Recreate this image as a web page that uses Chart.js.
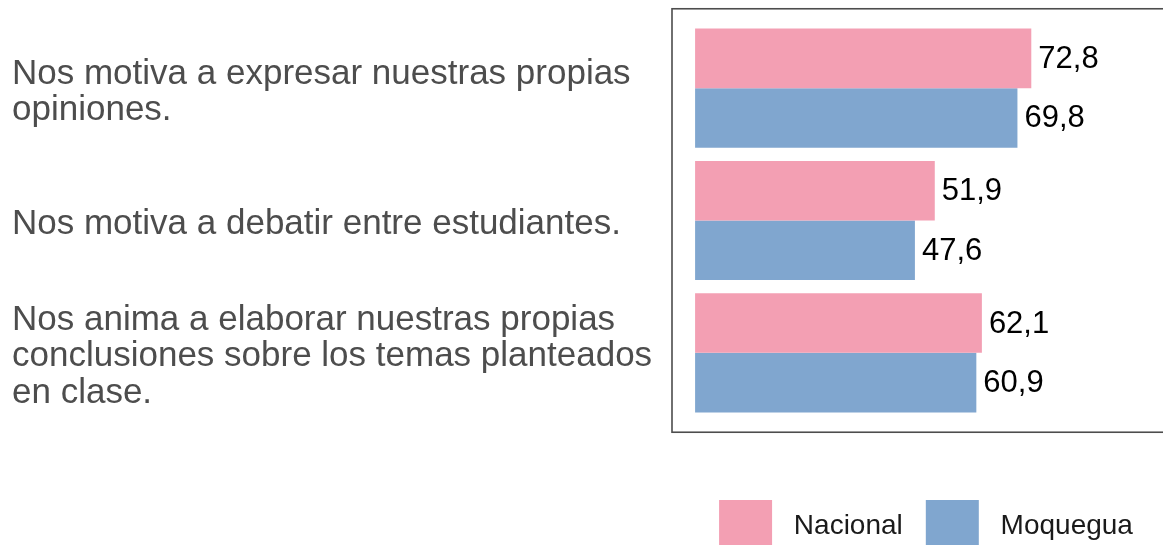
<!DOCTYPE html>
<html>
<head>
<meta charset="utf-8">
<script src="https://cdn.jsdelivr.net/npm/chart.js@4/dist/chart.umd.min.js"></script>
<style>
    html, body { margin: 0; padding: 0; background: #ffffff; overflow: hidden; }
    #wrap { width: 1190px; height: 565px; }
</style>
</head>
<body>
<div id="wrap"><canvas id="opinionChart"></canvas></div>
<script>
// Categories (one array per wrapped label) and series values
const categories = [
    ['Nos motiva a expresar nuestras propias', 'opiniones.'],
    ['Nos motiva a debatir entre estudiantes.'],
    ['Nos anima a elaborar nuestras propias', 'conclusiones sobre los temas planteados', 'en clase.']
];
const seriesNames = ['Nacional', 'Moquegua'];
const nacional = [72.8, 51.9, 62.1];
const moquegua = [69.8, 47.6, 60.9];
const xLimits = [-5, 105];

const pink = 'rgb(243, 159, 179)';
const blue = 'rgb(128, 166, 207)';
const fontFamily = '"Liberation Sans", Arial, Helvetica, sans-serif';

// Writes each value at the end of its bar, with a decimal comma
const valueLabels = {
    id: 'valueLabels',
    afterDatasetsDraw(chart) {
        const ctx = chart.ctx;
        ctx.save();
        ctx.font = '31px ' + fontFamily;
        ctx.fillStyle = '#000000';
        ctx.textAlign = 'left';
        ctx.textBaseline = 'middle';
        chart.data.datasets.forEach(function(ds, i) {
            chart.getDatasetMeta(i).data.forEach(function(bar, j) {
                ctx.fillText(ds.data[j].toFixed(1).replace('.', ','), bar.x + 7, bar.y + 1);
            });
        });
        ctx.restore();
    }
};

// Panel frame, extended a little beyond the outer categories
const panelFrame = {
    id: 'panelFrame',
    afterDraw(chart) {
        const area = chart.chartArea;
        const y = chart.scales.y;
        const ext = 0.1 * Math.abs(y.getPixelForValue(1) - y.getPixelForValue(0));
        const ctx = chart.ctx;
        ctx.save();
        ctx.strokeStyle = '#4d4d4d';
        ctx.lineWidth = 1.6;
        ctx.strokeRect(area.left, area.top - ext, area.right - area.left, area.bottom - area.top + 2 * ext);
        ctx.restore();
    }
};

new Chart(document.getElementById('opinionChart'), {
    type: 'bar',
    data: {
        labels: categories,
        datasets: [{
            label: seriesNames[0],
            data: nacional,
            backgroundColor: pink,
            borderWidth: 0
        }, {
            label: seriesNames[1],
            data: moquegua,
            backgroundColor: blue,
            borderWidth: 0
        }]
    },
    plugins: [valueLabels, panelFrame],
    options: {
        indexAxis: 'y',
        responsive: true,
        maintainAspectRatio: false,
        animation: false,
        layout: {
            padding: { top: 22, left: 12, right: 10, bottom: 2 }
        },
        datasets: {
            bar: { categoryPercentage: 0.9, barPercentage: 1.0 }
        },
        scales: {
            x: {
                min: xLimits[0],
                max: xLimits[1],
                ticks: { display: false },
                grid: { display: false, drawTicks: false },
                border: { display: false },
                afterFit: function(scale) { scale.height = 58; }
            },
            y: {
                grid: { display: false, drawTicks: false },
                border: { display: false },
                ticks: {
                    crossAlign: 'far',
                    labelOffset: 4,
                    color: '#4d4d4d',
                    font: { family: fontFamily, size: 35, lineHeight: 1.04 }
                },
                afterFit: function(scale) {
                    scale.width = 660;
                    scale.paddingTop = 0;
                    scale.paddingBottom = 0;
                }
            }
        },
        plugins: {
            legend: {
                position: 'bottom',
                fullSize: false,
                labels: {
                    boxWidth: 53,
                    boxHeight: 53,
                    padding: 23,
                    color: '#1a1a1a',
                    font: { family: fontFamily, size: 28 },
                    generateLabels: function(chart) {
                        return Chart.defaults.plugins.legend.labels.generateLabels(chart).map(function(item) {
                            item.text = ' ' + item.text;
                            item.lineWidth = 0;
                            return item;
                        });
                    }
                }
            },
            tooltip: { enabled: false }
        }
    }
});
</script>
</body>
</html>
